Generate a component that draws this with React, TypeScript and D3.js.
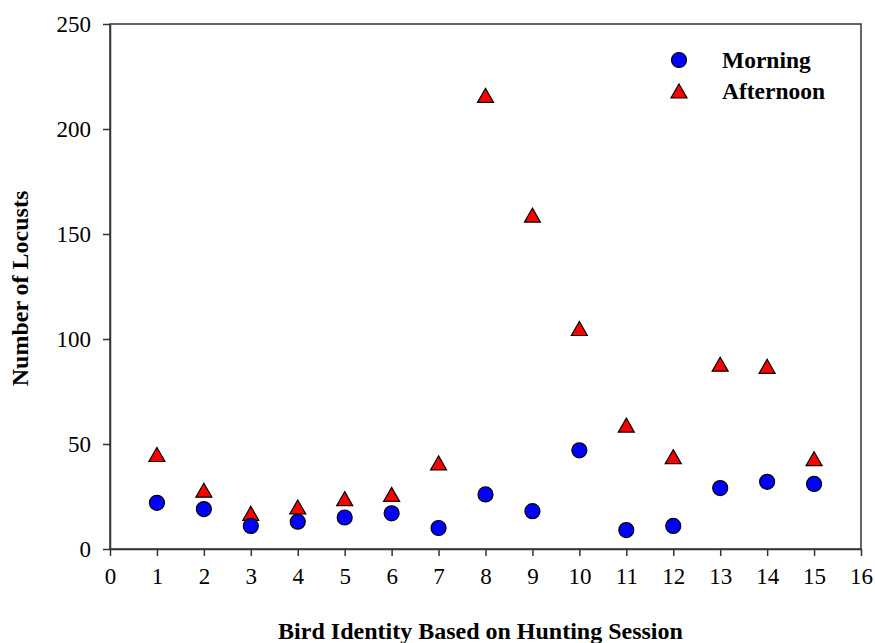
import * as d3 from "d3";
import React, { useEffect, useRef } from "react";

// bird ids 1..15
const birds = [1, 2, 3, 4, 5, 6, 7, 8, 9, 10, 11, 12, 13, 14, 15];
const morning = [22, 19, 11, 13, 15, 17, 10, 26, 18, 47, 9, 11, 29, 32, 31];
const afternoon = [45, 28, 17, 20, 24, 26, 41, 216, 159, 105, 59, 44, 88, 87, 43];
const xTicks = [0, 1, 2, 3, 4, 5, 6, 7, 8, 9, 10, 11, 12, 13, 14, 15, 16];
const yTicks = [0, 50, 100, 150, 200, 250];
const seriesNames = ["Morning", "Afternoon"];

const FONT = "'Liberation Serif', 'Times New Roman', serif";

// triangle marker, centred on its bounding box
const tri = (cx, cy, w = 16, h = 14) =>
    `M${cx},${cy - h / 2}L${cx + w / 2},${cy + h / 2}L${cx - w / 2},${cy + h / 2}Z`;

export default function App() {
    const svgRef = useRef(null);

    useEffect(() => {
        const svgWidth = 875;
        const svgHeight = 643;
        const margin = { top: 24, right: 14, bottom: 94, left: 110 };
        const width = svgWidth - margin.left - margin.right;
        const height = svgHeight - margin.top - margin.bottom;

        const svg = d3.select(svgRef.current);
        svg.selectAll("*").remove();

        const g = svg.append("g")
            .attr("transform", `translate(${margin.left},${margin.top})`);

        const x = d3.scaleLinear().domain([0, 16]).range([0, width]);
        const y = d3.scaleLinear().domain([0, 250]).range([height, 0]);

        // frame
        g.append("rect")
            .attr("x", 0).attr("y", 0)
            .attr("width", width).attr("height", height)
            .attr("fill", "none")
            .attr("stroke", "#333")
            .attr("stroke-width", 1.5);

        const xAxis = d3.axisBottom(x).tickValues(xTicks).tickSize(7).tickPadding(12).tickSizeOuter(0);
        const yAxis = d3.axisLeft(y).tickValues(yTicks).tickSize(7).tickPadding(12).tickSizeOuter(0);

        const xg = g.append("g")
            .attr("transform", `translate(0,${height})`)
            .call(xAxis);
        const yg = g.append("g").call(yAxis);

        [xg, yg].forEach(a => {
            a.attr("font-family", FONT).attr("font-size", 23);
            a.select(".domain").attr("stroke", "#333").attr("stroke-width", 1.5);
            a.selectAll(".tick line").attr("stroke", "#333").attr("stroke-width", 1.5);
            a.selectAll(".tick text")
                .attr("fill", "#000")
                .style("font-family", FONT)
                .style("font-size", "23px");
        });

        // afternoon (triangles)
        g.selectAll(".aft")
            .data(birds)
            .enter().append("path")
            .attr("class", "aft")
            .attr("d", (d, i) => tri(x(d), y(afternoon[i])))
            .attr("fill", "#ff0000")
            .attr("stroke", "#000")
            .attr("stroke-width", 1.2);

        // morning (circles)
        g.selectAll(".mor")
            .data(birds)
            .enter().append("circle")
            .attr("class", "mor")
            .attr("cx", d => x(d))
            .attr("cy", (d, i) => y(morning[i]))
            .attr("r", 7.5)
            .attr("fill", "#0000ff")
            .attr("stroke", "#000")
            .attr("stroke-width", 1.2);

        // legend
        const leg = svg.append("g");
        leg.append("circle")
            .attr("cx", 679).attr("cy", 60).attr("r", 7.5)
            .attr("fill", "#0000ff").attr("stroke", "#000").attr("stroke-width", 1.2);
        leg.append("path")
            .attr("d", tri(679, 91))
            .attr("fill", "#ff0000").attr("stroke", "#000").attr("stroke-width", 1.2);
        leg.selectAll(".legtext")
            .data(seriesNames)
            .enter().append("text")
            .attr("class", "legtext")
            .attr("x", 722)
            .attr("y", (d, i) => 68 + i * 31)
            .style("font-family", FONT)
            .style("font-weight", "bold")
            .style("font-size", "23.5px")
            .text(d => d);

        // axis titles
        svg.append("text")
            .attr("x", margin.left + width / 2 - 5)
            .attr("y", 639)
            .attr("text-anchor", "middle")
            .style("font-family", FONT)
            .style("font-weight", "bold")
            .style("font-size", "24px")
            .text("Bird Identity Based on Hunting Session");

        svg.append("text")
            .attr("transform", `translate(28,${margin.top + height / 2 + 2}) rotate(-90)`)
            .attr("text-anchor", "middle")
            .style("font-family", FONT)
            .style("font-weight", "bold")
            .style("font-size", "24px")
            .text("Number of Locusts");
    }, []);

    return (
        <svg ref={svgRef} width={875} height={643}
            style={{ position: "absolute", left: 0, top: 0, background: "#fff" }} />
    );
}
